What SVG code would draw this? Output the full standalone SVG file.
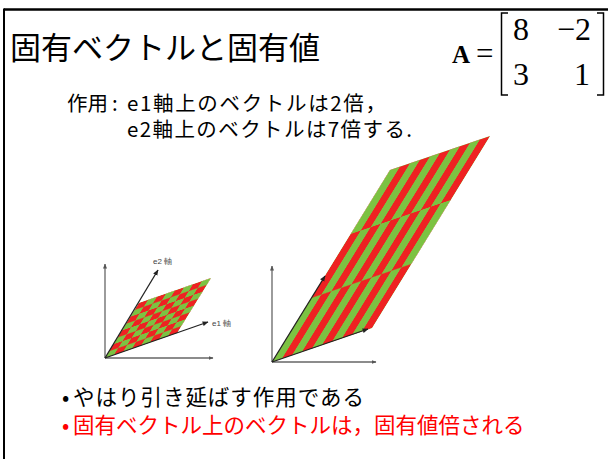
<svg xmlns="http://www.w3.org/2000/svg" width="608" height="459" viewBox="0 0 608 459">
<style>
.jp{font-family:"Noto Sans CJK JP","Noto Sans",sans-serif;fill:#000}
.mx{font-family:"Liberation Serif","Times New Roman",serif;fill:#000}
.ax{stroke:#666;stroke-width:1.3;fill:none}
.ev{stroke:#222;stroke-width:1.3;fill:none}
.lbl{font-family:"Liberation Sans",sans-serif;font-size:8px;fill:#444}
.br{stroke:#000;stroke-width:1.5;fill:none}
</style>
<defs>
<marker id="ah" viewBox="0 0 10 10" refX="9" refY="5" markerWidth="5" markerHeight="5" markerUnits="userSpaceOnUse" orient="auto">
<path d="M0,1 L10,5 L0,9 z" fill="#555"/>
</marker>
<marker id="ahk" viewBox="0 0 10 10" refX="9" refY="5" markerWidth="6" markerHeight="6" markerUnits="userSpaceOnUse" orient="auto">
<path d="M0,1 L10,5 L0,9 z" fill="#222"/>
</marker>
<pattern id="chkS" patternUnits="userSpaceOnUse" width="2" height="2" patternTransform="matrix(9,-3.125,4.25,-6.875,105,358)">
<rect x="1" y="0" width="1" height="1" fill="#ee2222"/>
<rect x="0" y="1" width="1" height="1" fill="#ee2222"/>
</pattern>
<pattern id="chkL" patternUnits="userSpaceOnUse" width="2" height="2" patternTransform="matrix(10,-3.4,39.333,-64,272,362)">
<rect x="1" y="0" width="1" height="1" fill="#ee2222"/>
<rect x="0" y="1" width="1" height="1" fill="#ee2222"/>
</pattern>
</defs>
<rect width="608" height="459" fill="#fff"/>
<g id="frame">
<line x1="4" y1="9.5" x2="608" y2="9.5" stroke="#000" stroke-width="2.5"/>
<line x1="4" y1="8.5" x2="4" y2="459" stroke="#000" stroke-width="2"/>
</g>
<g id="title">
<text class="jp" x="10" y="59" font-size="31">固有ベクトルと固有値</text>
</g>
<g id="matrix">
<text class="mx" x="452" y="63" font-size="25" font-weight="bold">A</text>
<text class="mx" x="476" y="64" font-size="31">=</text>
<path class="br" d="M508,13 H501.5 V95 H508"/>
<path class="br" d="M597,13 H603.5 V95 H597"/>
<text class="mx" x="513" y="40" font-size="32">8</text>
<text class="mx" x="557" y="40" font-size="32">−2</text>
<text class="mx" x="513" y="85" font-size="32">3</text>
<text class="mx" x="574" y="85" font-size="32">1</text>
</g>
<g id="desc">
<text class="jp" y="111" font-size="20.5"><tspan x="67">作用</tspan><tspan x="112">:</tspan><tspan x="127" textLength="259">e1軸上のベクトルは2倍，</tspan></text>
<text class="jp" x="127" y="137" font-size="20.5" textLength="285">e2軸上のベクトルは7倍する.</text>
</g>
<g id="small-diagram">
<polygon points="105,358 177,333 211,278 139,303" fill="#7cc242"/>
<polygon points="105,358 177,333 211,278 139,303" fill="url(#chkS)"/>
<text class="lbl" x="153" y="264">e2 軸</text>
<text class="lbl" x="212" y="326">e1 軸</text>
</g>
<g id="large-diagram">
<polygon points="272,362 372,328 490,136 390,170" fill="#7cc242"/>
<polygon points="272,362 372,328 490,136 390,170" fill="url(#chkL)"/>
</g>
<g id="connectors">
<line class="ax" x1="105" y1="358" x2="105" y2="264" marker-end="url(#ah)"/>
<line class="ax" x1="105" y1="358" x2="213" y2="358" marker-end="url(#ah)"/>
<line class="ev" x1="105" y1="358" x2="158" y2="270" marker-end="url(#ahk)"/>
<line class="ev" x1="105" y1="358" x2="208" y2="322" marker-end="url(#ahk)"/>
<line class="ax" x1="272" y1="362" x2="272" y2="266" marker-end="url(#ah)"/>
<line class="ax" x1="272" y1="362" x2="376" y2="362" marker-end="url(#ah)"/>
<line class="ev" x1="272" y1="362" x2="325" y2="276" marker-end="url(#ahk)"/>
<line class="ev" x1="272" y1="362" x2="368" y2="329" marker-end="url(#ahk)"/>
</g>
<g id="bullets">
<text class="jp" font-size="21.5" y="405"><tspan x="62">•</tspan><tspan x="73" textLength="291">やはり引き延ばす作用である</tspan></text>
<text class="jp" font-size="21.5" y="433" style="fill:#ff0000"><tspan x="62">•</tspan><tspan x="73">固有ベクトル上のベクトルは，固有値倍される</tspan></text>
</g>
</svg>
